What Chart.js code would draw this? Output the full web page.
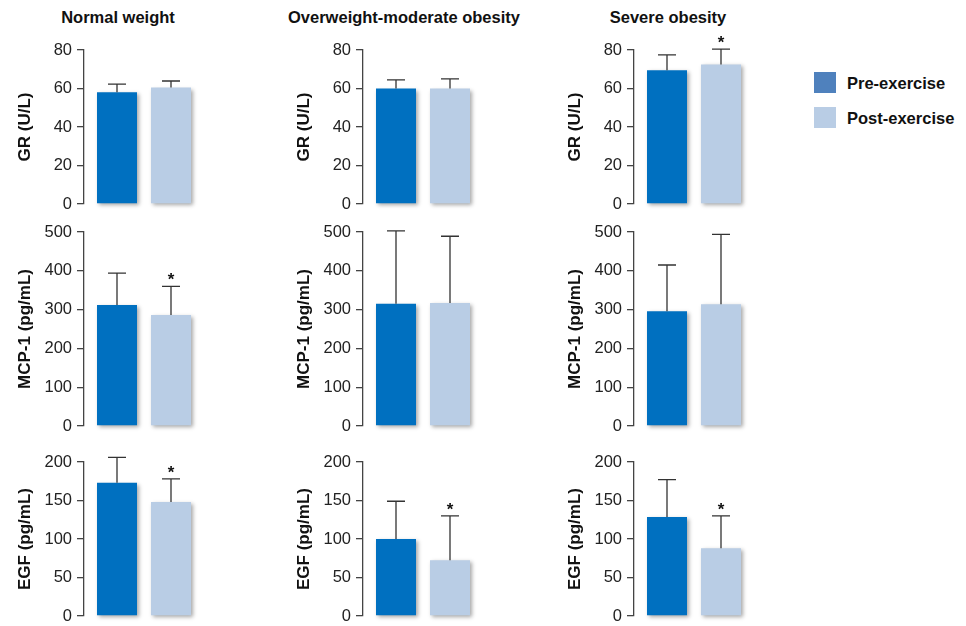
<!DOCTYPE html>
<html>
<head>
<meta charset="utf-8">
<script src="https://cdn.jsdelivr.net/npm/chart.js@4/dist/chart.umd.min.js"></script>
<style>
  html, body { margin: 0; padding: 0; background: #fff; overflow: hidden; }
  body { width: 966px; height: 626px; position: relative; font-family: 'Liberation Sans', Arial, sans-serif; }
  canvas { position: absolute; }
  .head { position: absolute; top: 6px; font-weight: bold; font-size: 16.5px; color: #111; white-space: nowrap; transform: translateX(-50%); line-height: 22px; }
  .key { position: absolute; left: 814px; width: 22px; height: 21px; }
  .keytxt { position: absolute; left: 847px; font-weight: bold; font-size: 16.5px; color: #111; line-height: 22px; white-space: nowrap; }
</style>
</head>
<body>
<div id="wrap"></div>
<script>
// groups (columns) and series
const groups = ['Normal weight', 'Overweight-moderate obesity', 'Severe obesity'];
const series = ['Pre-exercise', 'Post-exercise'];
const markers = ['GR (U/L)', 'MCP-1 (pg/mL)', 'EGF (pg/mL)'];
const axisMax = [80, 500, 200];
const axisStep = [20, 100, 50];

// GR
const grPre = [58, 60, 69.5];
const grPreSd = [4.3, 4.5, 8];
const grPost = [60.5, 60, 72.5];
const grPostSd = [3.4, 5, 8];
const grStar = [false, false, true];

// MCP-1
const mcpPre = [312, 315, 296];
const mcpPreSd = [82, 188, 119];
const mcpPost = [286, 317, 314];
const mcpPostSd = [74, 172, 180];
const mcpStar = [true, false, false];

// EGF
const egfPre = [173, 100, 128.5];
const egfPreSd = [33, 49, 48.5];
const egfPost = [148, 72.5, 88];
const egfPostSd = [30, 57.5, 42];
const egfStar = [true, true, true];

const preColor = '#0070c0';
const postColor = '#b9cde5';
const legendColors = ['#4f81bd', '#b9cde5'];

const rows = [
  [grPre, grPreSd, grPost, grPostSd, grStar],
  [mcpPre, mcpPreSd, mcpPost, mcpPostSd, mcpStar],
  [egfPre, egfPreSd, egfPost, egfPostSd, egfStar]
];

// layout of the panels
const axisX = [84, 363, 634];
const plotTop = [50, 232, 462];
const plotBottom = [204, 426, 616];
const yWidth = 72, plotW = 114, padTop = 22, padBottom = 16, step = 54;
const FONT = "'Liberation Sans', Arial, sans-serif";

// error bars + asterisks + bar shadow
const errorBars = {
  id: 'errorBars',
  beforeDatasetsDraw(chart) {
    const ctx = chart.ctx;
    ctx.save();
    ctx.shadowColor = 'rgba(0,0,0,0.35)';
    ctx.shadowBlur = 4;
    ctx.shadowOffsetX = 2;
    ctx.shadowOffsetY = 2;
  },
  afterDatasetsDraw(chart) {
    const ctx = chart.ctx;
    ctx.restore();
    const y = chart.scales.y;
    chart.data.datasets.forEach((ds, i) => {
      chart.getDatasetMeta(i).data.forEach((bar, j) => {
        const top = y.getPixelForValue(ds.data[j].y + ds.errors[j]);
        ctx.save();
        ctx.strokeStyle = '#333';
        ctx.lineWidth = 1.3;
        ctx.beginPath();
        ctx.moveTo(bar.x, bar.y);
        ctx.lineTo(bar.x, top);
        ctx.moveTo(bar.x - 9, top);
        ctx.lineTo(bar.x + 9, top);
        ctx.stroke();
        if (ds.stars[j]) {
          ctx.fillStyle = '#111';
          ctx.font = 'bold 17px ' + FONT;
          ctx.textAlign = 'center';
          ctx.textBaseline = 'alphabetic';
          ctx.fillText('*', bar.x, top - 1);
        }
        ctx.restore();
      });
    });
  }
};

const wrap = document.getElementById('wrap');

groups.forEach((g, c) => {
  const h = document.createElement('div');
  h.className = 'head';
  h.textContent = g;
  h.style.left = (axisX[c] + 34) + 'px';
  document.body.appendChild(h);
});
document.querySelectorAll('.head')[1].style.left = '404px';

series.forEach((s, k) => {
  const sw = document.createElement('div');
  sw.className = 'key';
  sw.style.top = (72 + k * 35) + 'px';
  sw.style.background = legendColors[k];
  document.body.appendChild(sw);
  const t = document.createElement('div');
  t.className = 'keytxt';
  t.style.top = (72 + k * 35) + 'px';
  t.textContent = s;
  document.body.appendChild(t);
});

rows.forEach((r, ri) => {
  const [pre, preSd, post, postSd, star] = r;
  groups.forEach((g, c) => {
    const cv = document.createElement('canvas');
    const w = yWidth + plotW;
    const hgt = plotBottom[ri] - plotTop[ri] + padTop + padBottom;
    cv.width = w; cv.height = hgt;
    cv.style.left = (axisX[c] - yWidth) + 'px';
    cv.style.top = (plotTop[ri] - padTop) + 'px';
    wrap.appendChild(cv);
    const xMin = -33 / step;
    new Chart(cv.getContext('2d'), {
      type: 'bar',
      data: {
        datasets: [
          { label: series[0], data: [{ x: 0, y: pre[c] }], errors: [preSd[c]], stars: [false],
            backgroundColor: preColor, grouped: false, categoryPercentage: 1, barPercentage: 40 / step, clip: false },
          { label: series[1], data: [{ x: 1, y: post[c] }], errors: [postSd[c]], stars: [star[c]],
            backgroundColor: postColor, grouped: false, categoryPercentage: 1, barPercentage: 40 / step, clip: false }
        ]
      },
      options: {
        responsive: false,
        animation: false,
        devicePixelRatio: 1,
        layout: { padding: { top: padTop, bottom: padBottom, left: 0, right: 0 } },
        plugins: { legend: { display: false }, tooltip: { enabled: false } },
        scales: {
          x: {
            type: 'linear', display: false, offset: false, min: xMin, max: xMin + plotW / step,
            grid: { offset: false },
            afterBuildTicks: s => { s.ticks = [{ value: 0 }, { value: 1 }]; }
          },
          y: {
            min: 0, max: axisMax[ri],
            ticks: { stepSize: axisStep[ri], color: '#222', padding: 5, font: { family: FONT, size: 16.5 } },
            grid: { drawOnChartArea: false, drawTicks: true, tickLength: 7, color: '#444', lineWidth: 1.3 },
            border: { display: true, color: '#444', width: 1.3 },
            title: { display: true, text: markers[ri], color: '#111', padding: { top: 3, bottom: 0 }, font: { family: FONT, size: 17, weight: 'bold' } },
            afterFit: s => { s.width = yWidth; }
          }
        }
      },
      plugins: [errorBars]
    });
  });
});
</script>
</body>
</html>
